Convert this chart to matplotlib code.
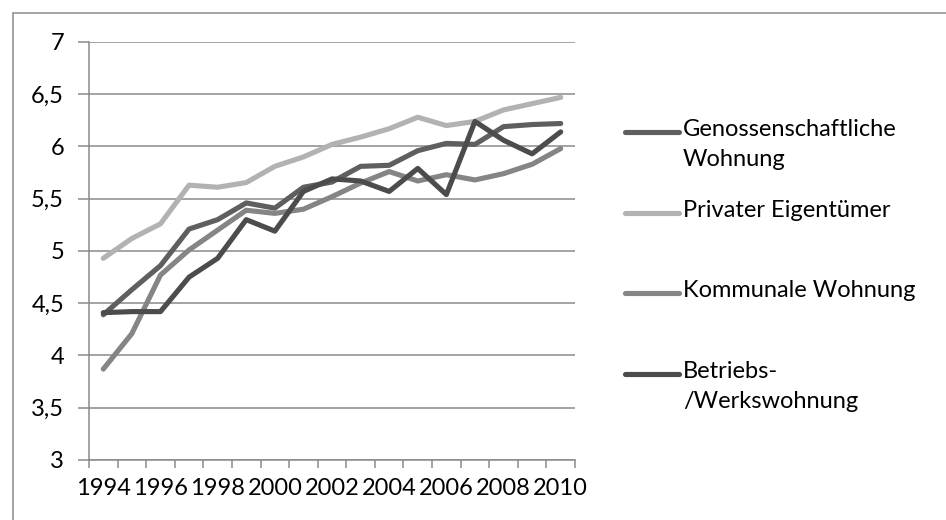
import matplotlib
matplotlib.use("Agg")
import matplotlib.pyplot as plt
from matplotlib.patches import Rectangle
from matplotlib.lines import Line2D

# values
years = list(range(1994, 2011))
genoss = [4.39, 4.63, 4.86, 5.21, 5.30, 5.46, 5.41, 5.61, 5.66, 5.81, 5.82, 5.96, 6.03, 6.02, 6.19, 6.21, 6.22]
privat = [4.93, 5.12, 5.26, 5.63, 5.61, 5.655, 5.81, 5.90, 6.02, 6.09, 6.17, 6.28, 6.20, 6.24, 6.35, 6.41, 6.47]
kommunal = [3.87, 4.21, 4.77, 5.01, 5.20, 5.39, 5.36, 5.40, 5.52, 5.65, 5.76, 5.67, 5.73, 5.68, 5.74, 5.83, 5.98]
betriebs = [4.41, 4.42, 4.42, 4.75, 4.93, 5.30, 5.19, 5.57, 5.69, 5.67, 5.57, 5.79, 5.54, 6.24, 6.06, 5.93, 6.14]

labels = ["Genossenschaftliche\nWohnung", "Privater Eigentümer", "Kommunale Wohnung", "Betriebs-\n/Werkswohnung"]
colors = ["#5f5f5f", "#b2b2b2", "#858585", "#4c4c4c"]
series = [genoss, privat, kommunal, betriebs]

yticks = [3, 3.5, 4, 4.5, 5, 5.5, 6, 6.5, 7]

plt.rcParams["font.family"] = ["Lato", "DejaVu Sans"]
grid_c = "#8a8a8a"
fs = 17

fig = plt.figure(figsize=(9.46, 5.20), dpi=100)
W, H = 946, 520
ax = fig.add_axes([89 / W, 60 / H, (575 - 89) / W, (460 - 42) / H])

x = list(range(len(years)))
for vals, col in zip(series, colors):
    ax.plot(x, vals, color=col, lw=3.7, solid_capstyle="round", solid_joinstyle="round")

ax.set_xlim(-0.5, len(years) - 0.5)
ax.set_ylim(3, 7)
ax.set_yticks(yticks)
ax.set_yticklabels([f"{v:g}".replace(".", ",") for v in yticks], fontsize=fs)
ax.yaxis.grid(True, color=grid_c, lw=1.1)
ax.set_axisbelow(True)

ax.set_xticks(x[::2])
ax.set_xticklabels([str(y) for y in years[::2]], fontsize=fs)
ax.set_xticks([i - 0.5 for i in range(len(years) + 1)], minor=True)
ax.tick_params(axis="x", which="major", length=0, pad=13)
ax.tick_params(axis="x", which="minor", length=6, width=1.1, color=grid_c)
ax.tick_params(axis="y", length=8, width=1.1, color=grid_c, pad=10)

for s in ["top", "right"]:
    ax.spines[s].set_visible(False)
for s in ["left", "bottom"]:
    ax.spines[s].set_color(grid_c)
    ax.spines[s].set_linewidth(1.1)

# legend drawn by hand so the line sits beside the first text row
leg_y = [132, 213, 293, 374]
for lab, col, yy in zip(labels, colors, leg_y):
    fy = 1 - yy / H
    fig.add_artist(Line2D([625 / W, 679 / W], [fy, fy], color=col, lw=3.7,
                          solid_capstyle="round", transform=fig.transFigure))
    fig.text(683 / W, fy + 13 / H, lab, fontsize=fs, va="top", ha="left",
             linespacing=1.55)

# outer chart border (only left and top edges fall inside the image)
fig.add_artist(Rectangle((13 / W, -0.2), 1.5, 1.2 - 13 / H, fill=False,
                         edgecolor=grid_c, lw=1.1, transform=fig.transFigure))

fig.savefig("out.png", dpi=100, facecolor="white")
